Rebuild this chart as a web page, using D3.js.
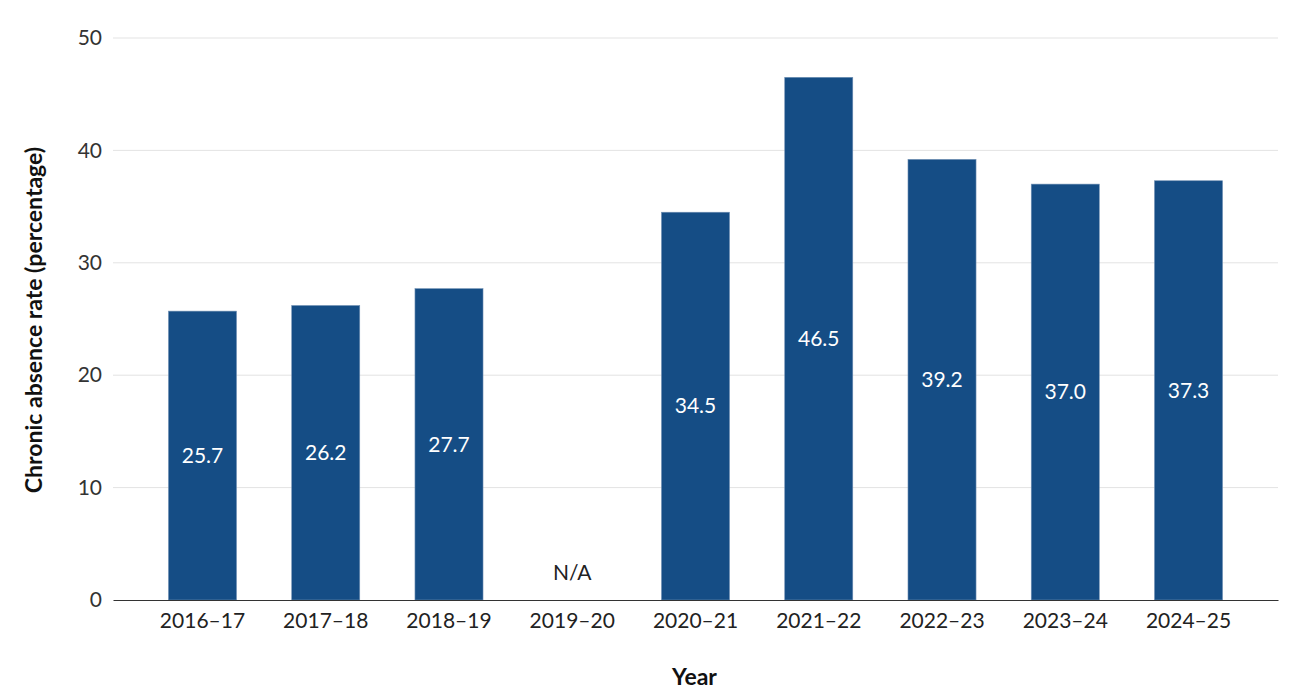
<!DOCTYPE html>
<html>
<head>
<meta charset="utf-8">
<script src="https://cdn.jsdelivr.net/npm/d3@7"></script>
<style>
  body { margin: 0; background: #fff; }
  text { font-family: Lato, "Open Sans", sans-serif; }
</style>
</head>
<body>
<svg id="chart" width="1300" height="692"></svg>
<script>
// data
var years = ["2016\u201317", "2017\u201318", "2018\u201319", "2019\u201320", "2020\u201321",
             "2021\u201322", "2022\u201323", "2023\u201324", "2024\u201325"];
var rates = [25.7, 26.2, 27.7, null, 34.5, 46.5, 39.2, 37.0, 37.3];
var yTicks = [0, 10, 20, 30, 40, 50];

var svg = d3.select("#chart");
var margin = {top: 38, right: 22, bottom: 92, left: 113};
var width = 1300 - margin.left - margin.right;
var height = 692 - margin.top - margin.bottom;

var g = svg.append("g").attr("transform", "translate(" + margin.left + "," + margin.top + ")");

var x = d3.scaleBand().domain(years).range([0, width]).paddingInner(0.448).paddingOuter(0.45);
var y = d3.scaleLinear().domain([0, 50]).range([height, 0]);

// gridlines
g.selectAll(".grid")
  .data(yTicks.filter(function(d){ return d > 0; }))
  .enter().append("line")
  .attr("x1", 0).attr("x2", width)
  .attr("y1", function(d){ return y(d); })
  .attr("y2", function(d){ return y(d); })
  .attr("stroke", "#e3e3e3")
  .attr("stroke-width", 1);

// y axis labels
var yAxis = g.append("g")
  .call(d3.axisLeft(y).tickValues(yTicks).tickSize(0).tickPadding(11));
yAxis.select(".domain").remove();
yAxis.selectAll("text").style("font-size", "21px").attr("fill", "#333");

var data = years.map(function(d, i){ return {year: d, value: rates[i]}; });

// bars
g.selectAll(".bar")
  .data(data.filter(function(d){ return d.value != null; }))
  .enter().append("rect")
  .attr("x", function(d){ return x(d.year); })
  .attr("y", function(d){ return y(d.value); })
  .attr("width", x.bandwidth())
  .attr("height", function(d){ return height - y(d.value); })
  .attr("fill", "#154d85")
  .attr("stroke", "#6f8fb3")
  .attr("stroke-width", 0.6);

// value labels
g.selectAll(".lbl")
  .data(data)
  .enter().append("text")
  .attr("x", function(d){ return x(d.year) + x.bandwidth() / 2; })
  .attr("y", function(d){ return d.value == null ? y(0) - 27 : y(d.value / 2); })
  .attr("dy", "0.35em")
  .attr("text-anchor", "middle")
  .style("font-size", "21px")
  .attr("fill", function(d){ return d.value == null ? "#222" : "#fff"; })
  .text(function(d){ return d.value == null ? "N/A" : d.value.toFixed(1); });

// x axis
var xAxis = g.append("g")
  .attr("transform", "translate(0," + height + ")")
  .call(d3.axisBottom(x).tickSize(0).tickPadding(13));
xAxis.select(".domain").attr("stroke", "#333").attr("stroke-width", 1.2);
xAxis.selectAll("text").style("font-size", "21px").attr("fill", "#222");

// axis titles
svg.append("text")
  .attr("x", margin.left + width / 2 - 1)
  .attr("y", 685)
  .attr("text-anchor", "middle")
  .style("font-size", "23px")
  .style("font-weight", "bold")
  .attr("fill", "#111")
  .text("Year");

svg.append("text")
  .attr("transform", "translate(42," + (margin.top + height / 2 + 1) + ") rotate(-90)")
  .attr("text-anchor", "middle")
  .style("font-size", "23px")
  .style("font-weight", "bold")
  .attr("fill", "#111")
  .text("Chronic absence rate (percentage)");
</script>
</body>
</html>
